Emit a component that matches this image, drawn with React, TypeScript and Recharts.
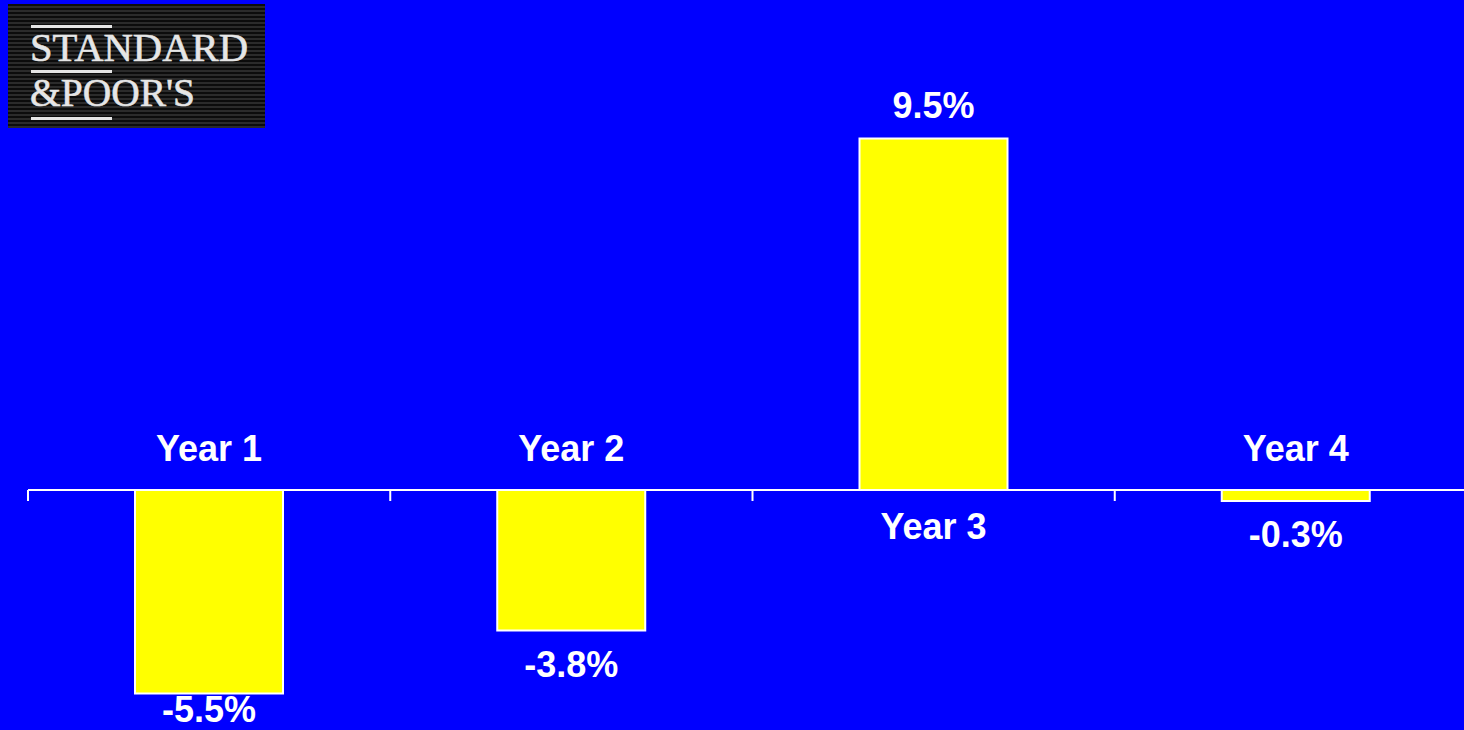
import React from "react";
import {
  BarChart,
  Bar,
  XAxis,
  YAxis,
  LineChart,
  Line,
  LabelList,
} from "recharts";

// values
const years = ["Year 1", "Year 2", "Year 3", "Year 4"];
const returns = [-5.5, -3.8, 9.5, -0.3];
const valueLabels = ["-5.5%", "-3.8%", "9.5%", "-0.3%"];
const axisTicks = [0, 1, 2, 3, 4];

const BLUE = "#0000ff";
const YELLOW = "#ffff00";
const FONT = "'Liberation Sans', Arial, Helvetica, sans-serif";

const W = 1490;
const H = 730;
const MARGIN_LEFT = 28;
const MARGIN_RIGHT = 13;

const chartData = years.map((year, i) => ({ year, value: returns[i] }));
const axisData = axisTicks.map((pos) => ({ pos }));

const textStyle = {
  fill: "#ffffff",
  fontFamily: FONT,
  fontWeight: 700,
  fontSize: 36,
};

// category name sits on the other side of the zero line
const YearLabel = (props: any) => {
  const { x, y, width, height, index } = props;
  const v = returns[index];
  const top = Math.min(y, y + height);
  const bottom = Math.max(y, y + height);
  const zero = v < 0 ? top : bottom;
  const ty = v < 0 ? zero - 29 : zero + 49;
  return (
    <text x={x + width / 2} y={ty} textAnchor="middle" style={textStyle}>
      {years[index]}
    </text>
  );
};

// value label just beyond the end of the bar (kept inside the slide)
const ValueLabel = (props: any) => {
  const { x, y, width, height, index } = props;
  const v = returns[index];
  const top = Math.min(y, y + height);
  const bottom = Math.max(y, y + height);
  const ty = v < 0 ? Math.min(bottom + 46, 722) : top - 21;
  return (
    <text x={x + width / 2} y={ty} textAnchor="middle" style={textStyle}>
      {valueLabels[index]}
    </text>
  );
};

function Logo() {
  const serif = { fontFamily: "'Liberation Serif', 'Times New Roman', serif", fontSize: 40 };
  return (
    <div
      style={{
        position: "absolute",
        left: 8,
        top: 4,
        width: 257,
        height: 124,
        background:
          "repeating-linear-gradient(to bottom, #0c0c0c 0px, #0c0c0c 2px, #2b2b2b 2px, #2b2b2b 4px)",
      }}
    >
      <svg width={257} height={124} style={{ position: "absolute", left: 0, top: 0 }}>
        <rect x={23} y={21} width={81} height={3} fill="#e6e6e6" />
        <text
          x={22}
          y={57}
          fill="#e6e6e6"
          stroke="#e6e6e6"
          strokeWidth={0.6}
          style={serif}
          textLength={218}
          lengthAdjust="spacingAndGlyphs"
        >
          STANDARD
        </text>
        <rect x={23} y={66} width={81} height={3} fill="#e6e6e6" />
        <text
          x={22}
          y={102}
          fill="#e6e6e6"
          stroke="#e6e6e6"
          strokeWidth={0.6}
          style={serif}
          textLength={165}
          lengthAdjust="spacingAndGlyphs"
        >
          &amp;POOR'S
        </text>
        <rect x={23} y={113} width={81} height={3} fill="#e6e6e6" />
      </svg>
    </div>
  );
}

export default function App() {
  return (
    <div
      style={{
        position: "fixed",
        left: 0,
        top: 0,
        width: 1464,
        height: 730,
        overflow: "hidden",
        background: BLUE,
      }}
    >
      <Logo />
      <div style={{ position: "absolute", left: 0, top: 0 }}>
        <BarChart
          width={W}
          height={H}
          data={chartData}
          margin={{ top: 101.5, right: MARGIN_RIGHT, bottom: 18, left: MARGIN_LEFT }}
          barCategoryGap={0}
        >
          <XAxis dataKey="year" hide />
          <YAxis hide domain={[-6, 10.5]} type="number" />
          <Bar
            dataKey="value"
            fill={YELLOW}
            stroke="#ffffff"
            strokeWidth={2}
            barSize={148}
            isAnimationActive={false}
          >
            <LabelList dataKey="year" content={YearLabel} />
            <LabelList dataKey="value" content={ValueLabel} />
          </Bar>
        </BarChart>
      </div>
      {/* zero line with category boundary ticks */}
      <div style={{ position: "absolute", left: 0, top: 0 }}>
        <LineChart
          width={W}
          height={H}
          data={axisData}
          margin={{ top: 0, right: MARGIN_RIGHT, bottom: 0, left: MARGIN_LEFT }}
        >
          <XAxis
            dataKey="pos"
            type="number"
            domain={[0, 4]}
            ticks={axisTicks}
            height={240}
            tickFormatter={() => ""}
            axisLine={{ stroke: "#ffffff", strokeWidth: 2 }}
            tickLine={{ stroke: "#ffffff", strokeWidth: 2 }}
            tickSize={11}
          />
          <YAxis hide domain={[0, 1]} />
          <Line dataKey="pos" stroke="none" dot={false} isAnimationActive={false} />
        </LineChart>
      </div>
    </div>
  );
}
